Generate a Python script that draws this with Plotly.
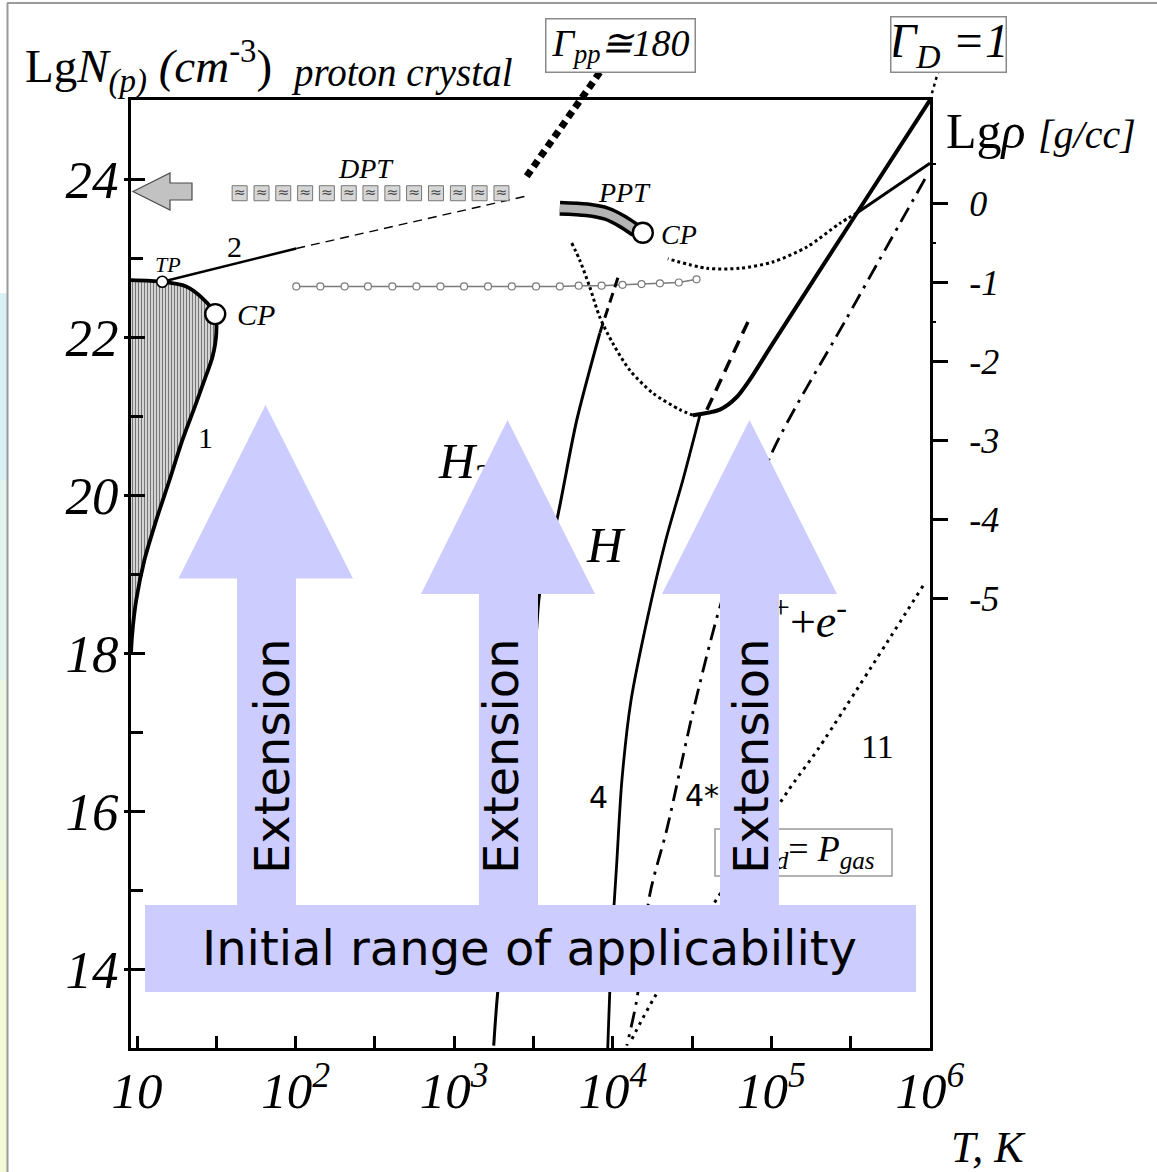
import plotly.graph_objects as go

SERIF = "Liberation Serif"
SANS = "DejaVu Sans"
LILAC = "#ccccff"
INK = "#000000"

# ---------------- page / axes ----------------
W, H = 1157, 1172
M_L, M_R, M_T, M_B = 131, 227, 100, 124

LGT_RANGE = [0.962, 6.0]      # lg T  [K]
LGN_RANGE = [13.0, 25.0]      # lg N(p)  [cm^-3]
RHO_OFFSET = 23.69            # lg rho [g/cc] = lg N - 23.69

T_TICKS = [1, 2, 3, 4, 5, 6]
T_TICK_TEXT = ["10", "10<sup>2</sup>", "10<sup>3</sup>", "10<sup>4</sup>",
               "10<sup>5</sup>", "10<sup>6</sup>"]
T_MINOR = [1.5, 2.5, 3.5, 4.5, 5.5]
N_TICKS = [14, 16, 18, 20, 22, 24]
N_MINOR = [15, 17, 19, 21, 23]
RHO_TICKS = [0, -1, -2, -3, -4, -5]
RHO_TICK_TEXT = ["0", "-1", "-2", "-3", "-4", "-5"]
RHO_MINOR = [0.5, -0.5, -1.5]

# ---------------- curves (lg T, lg N) ----------------
# 1: boundary of the proton crystal (axis -> TP -> CP -> axis)
MELT_LGT = [0.962, 1.159, 1.310, 1.413, 1.493, 1.500, 1.476, 1.426, 1.363,
            1.287, 1.205, 1.121, 1.047, 0.995, 0.970, 0.962]
MELT_LGN = [22.72, 22.70, 22.64, 22.49, 22.29, 22.05, 21.75, 21.46, 21.11,
            20.70, 20.19, 19.68, 19.18, 18.67, 18.25, 18.00]
TP_LGT, TP_LGN = [1.159], [22.70]
CP_LGT, CP_LGN = [1.493, 4.189], [22.29, 23.32]

# 2: from the triple point, solid then dashed
LINE2_LGT = [1.159, 2.004]
LINE2_LGN = [22.70, 23.12]
LINE2_EXT_LGT = [2.004, 3.445]
LINE2_EXT_LGN = [23.12, 23.78]

# DPT symbols
DPT_LGT = [1.647, 1.785, 1.922, 2.060, 2.197, 2.335, 2.472, 2.610, 2.747,
           2.885, 3.023, 3.160, 3.298]
DPT_LGN = [23.82, 23.82, 23.82, 23.82, 23.82, 23.82, 23.82, 23.82, 23.82,
           23.82, 23.82, 23.82, 23.82]

# Gamma_pp = 180 (from the label box down into the plot)
GPP_LGT = [3.918, 3.445]
GPP_LGN = [25.35, 24.00]

# PPT band ending at its critical point
PPT_LGT = [3.666, 3.836, 3.962, 4.063, 4.145]
PPT_LGN = [23.63, 23.61, 23.56, 23.46, 23.35]

# grey line with open circles
CIRC_LGT = [2.004, 2.156, 2.309, 2.456, 2.610, 2.762, 2.913, 3.062, 3.213,
            3.363, 3.516, 3.666, 3.785, 3.929, 4.061, 4.181, 4.297, 4.416, 4.528]
CIRC_LGN = [22.64, 22.64, 22.64, 22.64, 22.64, 22.64, 22.64, 22.64, 22.64,
            22.64, 22.64, 22.64, 22.65, 22.65, 22.66, 22.67, 22.68, 22.69, 22.73]

# H2 / H boundary
H2_TOP_LGT = [4.032, 3.918]
H2_TOP_LGN = [22.75, 22.05]
H2_LGT = [3.918, 3.773, 3.647, 3.539, 3.514, 3.274, 3.249]
H2_LGN = [22.05, 20.95, 19.68, 18.76, 18.16, 13.70, 13.03]

# dotted branch falling into the minimum
SPIN_L_LGT = [3.741, 3.792, 3.855, 3.918, 4.000, 4.107, 4.252, 4.423, 4.505]
SPIN_L_LGN = [23.19, 22.97, 22.63, 22.25, 21.92, 21.58, 21.29, 21.08, 21.01]

# Gamma_D = 1 line (thick) from the minimum to the upper right corner
GD_LGT = [4.505, 4.675, 4.782, 4.864, 5.009, 5.539, 6.000]
GD_LGN = [21.01, 21.08, 21.24, 21.46, 21.92, 23.57, 25.00]
GD_LEADER_LGT = [6.000, 6.050]
GD_LEADER_LGN = [25.00, 25.35]

# line reaching the right axis, dotted continuation to the left
UPPER_LGT = [5.539, 6.000]
UPPER_LGN = [23.57, 24.20]
SPIN_R_LGT = [5.539, 5.432, 5.224, 5.009, 4.801, 4.593, 4.347]
SPIN_R_LGN = [23.57, 23.44, 23.14, 22.95, 22.87, 22.87, 22.99]

# 4: dissociation, plus dashed branch above the junction
C4_LGT = [4.549, 4.442, 4.334, 4.215, 4.114, 4.057, 4.025, 3.994, 3.968]
C4_LGN = [21.01, 20.19, 19.43, 18.41, 17.39, 16.38, 15.35, 14.34, 13.00]
C4_UP_LGT = [4.593, 4.852]
C4_UP_LGN = [21.08, 22.19]

# 4*: ionization (dash-dot)
C4S_LGT = [5.968, 5.470, 4.991, 4.675, 4.505, 4.341, 4.233, 4.151, 4.088]
C4S_LGN = [24.00, 22.22, 20.48, 18.58, 17.25, 15.77, 14.94, 13.61, 13.03]

# 11: P_rad = P_gas (dotted)
C11_LGT = [5.956, 5.293, 5.110, 4.265, 4.107]
C11_LGN = [18.85, 16.78, 16.27, 13.65, 13.06]


def px(x):
    return (x - M_L) / (W - M_L - M_R)


def py(y):
    return (H - M_B - y) / (H - M_T - M_B)


def dx(lgt):
    return (lgt - LGT_RANGE[0]) / (LGT_RANGE[1] - LGT_RANGE[0])


def dy(lgn):
    return (lgn - LGN_RANGE[0]) / (LGN_RANGE[1] - LGN_RANGE[0])


fig = go.Figure()


def line(x, y, width=2.5, dash="solid", color=INK, spline=True):
    fig.add_trace(go.Scatter(
        x=x, y=y, mode="lines", hoverinfo="skip", showlegend=False,
        line=dict(color=color, width=width, dash=dash,
                  shape="spline" if spline else "linear", smoothing=0.8)))


# shaded proton-crystal region
fig.add_trace(go.Scatter(
    x=MELT_LGT, y=MELT_LGN, mode="lines", fill="toself", hoverinfo="skip",
    showlegend=False, line=dict(width=0, shape="spline", smoothing=0.8),
    fillcolor="#cfcfcf",
    fillpattern=dict(shape="|", size=3, solidity=0.4, fgcolor="#767676",
                     bgcolor="#dedede")))
line(MELT_LGT, MELT_LGN, width=3.8)

line(LINE2_LGT, LINE2_LGN, width=2.5, spline=False)
line(LINE2_EXT_LGT, LINE2_EXT_LGN, width=1.4, dash="9px,6px", spline=False)

# DPT row
fig.add_trace(go.Scatter(
    x=DPT_LGT, y=DPT_LGN, mode="markers+text", text=["≈"] * len(DPT_LGT),
    textposition="middle center", textfont=dict(family=SANS, size=14, color="#444"),
    marker=dict(symbol="square", size=15, color="#d6d6d6",
                line=dict(color="#777", width=1)),
    hoverinfo="skip", showlegend=False))

line(GPP_LGT, GPP_LGN, width=7, dash="7px,5px", spline=False)

# PPT band
line(PPT_LGT, PPT_LGN, width=15)
line(PPT_LGT, PPT_LGN, width=8, color="#b4b4b4")

# grey circles line
fig.add_trace(go.Scatter(
    x=CIRC_LGT, y=CIRC_LGN, mode="lines+markers", hoverinfo="skip", showlegend=False,
    line=dict(color="#7a7a7a", width=1.5),
    marker=dict(symbol="circle", size=7, color="white",
                line=dict(color="#7a7a7a", width=1.2))))

line(H2_TOP_LGT, H2_TOP_LGN, width=3, dash="10px,6px", spline=False)
line(H2_LGT, H2_LGN, width=3)

line(SPIN_L_LGT, SPIN_L_LGN, width=3, dash="3px,3px")
line(GD_LGT, GD_LGN, width=4)
line(UPPER_LGT, UPPER_LGN, width=3, spline=False)
line(SPIN_R_LGT, SPIN_R_LGN, width=3, dash="3px,3px")

line(C4_LGT, C4_LGN, width=2.8)
line(C4_UP_LGT, C4_UP_LGN, width=3.5, dash="13px,8px", spline=False)
line(C4S_LGT, C4S_LGN, width=2.8, dash="16px,7px,3px,7px")
line(C11_LGT, C11_LGN, width=3, dash="3px,5px")

# triple and critical points
fig.add_trace(go.Scatter(
    x=TP_LGT, y=TP_LGN, mode="markers", hoverinfo="skip", showlegend=False,
    marker=dict(size=11, color="white", line=dict(color=INK, width=1.6))))
fig.add_trace(go.Scatter(
    x=CP_LGT, y=CP_LGN, mode="markers", hoverinfo="skip", showlegend=False,
    marker=dict(size=20, color="white", line=dict(color=INK, width=2.4))))

# labels that sit underneath the overlay arrows
fig.add_trace(go.Scatter(
    x=[3.073, 5.167, 5.199], y=[20.37, 18.35, 15.48], mode="text",
    text=["<i>H</i><sub>2</sub>",
          "<i>p</i><sup>+</sup>+<i>e</i><sup>-</sup>",
          "<i>P</i><sub><i>rad</i></sub>= <i>P</i><sub><i>gas</i></sub>"],
    textposition="middle center",
    textfont=dict(family=SERIF, size=[50, 46, 36], color=INK),
    hoverinfo="skip", showlegend=False, cliponaxis=False))

# empty traces to carry the secondary axes
fig.add_trace(go.Scatter(x=[], y=[], yaxis="y2", showlegend=False))
fig.add_trace(go.Scatter(x=[], y=[], yaxis="y3", showlegend=False))

shapes = []

# slide edge: thin frame and coloured strip on the left
strip = [(293, 480, "#d9f1f5"), (480, 680, "#e2f4ee"), (680, 880, "#ecf6e2"),
         (880, 1172, "#f4f9d8")]
for y0, y1, c in strip:
    shapes.append(dict(type="rect", xref="paper", yref="paper", layer="below",
                       x0=px(0), x1=px(7), y0=py(y1), y1=py(y0),
                       fillcolor=c, line=dict(width=0)))
shapes.append(dict(type="line", xref="paper", yref="paper", layer="below",
                   x0=px(7), x1=px(1157), y0=py(3), y1=py(3),
                   line=dict(color="#9a9a9a", width=2)))
shapes.append(dict(type="line", xref="paper", yref="paper", layer="below",
                   x0=px(7.5), x1=px(7.5), y0=py(3), y1=py(1172),
                   line=dict(color="#9a9a9a", width=2)))

# leaders from the boxed labels to the lines they name
f = (GPP_LGN[0] - LGN_RANGE[1]) / (GPP_LGN[0] - GPP_LGN[1])
gpp_top_x = GPP_LGT[0] + f * (GPP_LGT[1] - GPP_LGT[0])
shapes.append(dict(type="line", xref="paper", yref="paper",
                   x0=dx(GPP_LGT[0]), y0=dy(GPP_LGN[0]),
                   x1=dx(gpp_top_x), y1=dy(LGN_RANGE[1]),
                   line=dict(color=INK, width=7, dash="7px,5px")))
shapes.append(dict(type="line", xref="paper", yref="paper",
                   x0=dx(GD_LEADER_LGT[0]), y0=dy(GD_LEADER_LGN[0]),
                   x1=dx(GD_LEADER_LGT[1]), y1=dy(GD_LEADER_LGN[1]),
                   line=dict(color=INK, width=2.5, dash="3px,4px")))

# grey arrow pointing to the left axis
ga = [(133, 191.5), (170, 173), (170, 183), (192, 183), (192, 200), (170, 200), (170, 210)]
shapes.append(dict(type="path", xref="paper", yref="paper",
                   path="M " + " L ".join(f"{px(a)},{py(b)}" for a, b in ga) + " Z",
                   fillcolor="#c2c2c2", line=dict(color="#4a4a4a", width=1.2)))

# frame of the P_rad = P_gas label
shapes.append(dict(type="rect", xref="paper", yref="paper", layer="below",
                   x0=px(715), x1=px(892), y0=py(876), y1=py(829),
                   line=dict(color="#9a9a9a", width=1.5)))


def up_arrow(apex_x, apex_y, base_y, head_l, head_r, shaft_l, shaft_r, bottom):
    pts = [(head_l, base_y), (apex_x, apex_y), (head_r, base_y), (shaft_r, base_y),
           (shaft_r, bottom), (shaft_l, bottom), (shaft_l, base_y)]
    return dict(type="path", xref="paper", yref="paper", layer="above",
                path="M " + " L ".join(f"{px(a)},{py(b)}" for a, b in pts) + " Z",
                fillcolor=LILAC, line=dict(width=0))


shapes.append(up_arrow(265.5, 405, 578.5, 178.5, 353, 237, 296, 906))
shapes.append(up_arrow(507.5, 420, 594, 421, 595, 479, 538, 906))
shapes.append(up_arrow(749.5, 420, 594, 662, 837, 720, 779, 906))
shapes.append(dict(type="rect", xref="paper", yref="paper", layer="above",
                   x0=px(145), x1=px(916), y0=py(992), y1=py(905),
                   fillcolor=LILAC, line=dict(width=0)))

annotations = []


def ann(text, x, y, size, family=SERIF, xanchor="center", yanchor="middle", **kw):
    annotations.append(dict(text=text, x=px(x), y=py(y), xref="paper", yref="paper",
                            xanchor=xanchor, yanchor=yanchor, showarrow=False,
                            font=dict(family=family, size=size, color=INK), **kw))


ann("Lg<i>N</i><sub><i>(p)</i></sub> <i>(cm</i><sup>-3</sup>)", 23, 66, 47, xanchor="left")
ann("<i>proton crystal</i>", 289, 73, 39, xanchor="left")
ann("<i>Γ</i><sub><i>pp</i></sub><i>≅180</i>", 620, 45.5, 38,
    bordercolor="#8a8a8a", borderwidth=1.5, borderpad=2, bgcolor="white",
    width=144, height=48)
ann("<i>Γ</i><sub><i>D</i></sub><i> =1</i>", 948, 44, 48,
    bordercolor="#8a8a8a", borderwidth=1.5, borderpad=2, bgcolor="white",
    width=110, height=50)
ann("Lg<i>ρ</i> <span style='font-size:40px'><i>[g/cc]</i></span>", 944, 131, 50,
    xanchor="left")
ann("<i>T, K</i>", 988, 1147, 44)

ann("2", 234, 246, 30)
ann("<i>TP</i>", 168, 264, 22)
ann("<i>CP</i>", 256, 315, 30)
ann("1", 205, 437, 30)
ann("<i>DPT</i>", 366, 168, 28)
ann("<i>PPT</i>", 624, 192, 28)
ann("<i>CP</i>", 679, 234, 28)
ann("<i>H</i>", 606, 545, 50)
ann("4", 598, 797, 30, family=SANS)
ann("4*", 702, 795, 30, family=SANS)
ann("11", 877, 746, 34)

for cx in (272, 501, 751):
    ann("Extension", cx, 756, 48, family=SANS, textangle=-90)
ann("Initial range of applicability", 529, 948, 48, family=SANS)

axis_common = dict(showgrid=False, zeroline=False, automargin=False,
                   linecolor=INK, tickcolor=INK)

fig.update_layout(
    template="none",
    width=W, height=H, autosize=False,
    margin=dict(l=M_L, r=M_R, t=M_T, b=M_B, pad=0),
    paper_bgcolor="white", plot_bgcolor="white",
    showlegend=False,
    xaxis=dict(range=LGT_RANGE, tickmode="array", tickvals=T_TICKS, ticktext=T_TICK_TEXT,
               ticks="inside", ticklen=12, tickwidth=2.5, showline=True, linewidth=3,
               mirror=True, ticklabelstandoff=-4,
               tickfont=dict(family=SERIF, size=51, style="italic", color=INK),
               minor=dict(tickmode="array", tickvals=T_MINOR, ticks="inside",
                          ticklen=12, tickwidth=2.5, tickcolor=INK),
               **axis_common),
    yaxis=dict(range=LGN_RANGE, tickmode="array", tickvals=N_TICKS,
               ticks="inside", ticklen=14, tickwidth=3, showline=True, linewidth=3,
               ticklabelstandoff=-1,
               tickfont=dict(family=SERIF, size=53, style="italic", color=INK),
               minor=dict(tickmode="array", tickvals=N_MINOR, ticks="inside",
                          ticklen=12, tickwidth=3, tickcolor=INK),
               **axis_common),
    yaxis2=dict(range=[LGN_RANGE[0] - RHO_OFFSET, LGN_RANGE[1] - RHO_OFFSET],
                overlaying="y", side="right", anchor="x",
                tickmode="array", tickvals=RHO_TICKS, ticktext=RHO_TICK_TEXT,
                ticks="outside", ticklen=15, tickwidth=3, showline=True, linewidth=3,
                ticklabelstandoff=14,
                tickfont=dict(family=SERIF, size=36, style="italic", color=INK),
                minor=dict(tickmode="array", tickvals=RHO_MINOR, ticks="outside",
                           ticklen=3, tickwidth=2, tickcolor=INK),
                **axis_common),
    yaxis3=dict(range=LGN_RANGE, overlaying="y", side="left", anchor="x",
                tickmode="array", tickvals=N_TICKS, ticks="outside", ticklen=6,
                tickwidth=3, showticklabels=False, showline=False, **axis_common),
    shapes=shapes,
    annotations=annotations,
)

fig.write_html("out.html")
